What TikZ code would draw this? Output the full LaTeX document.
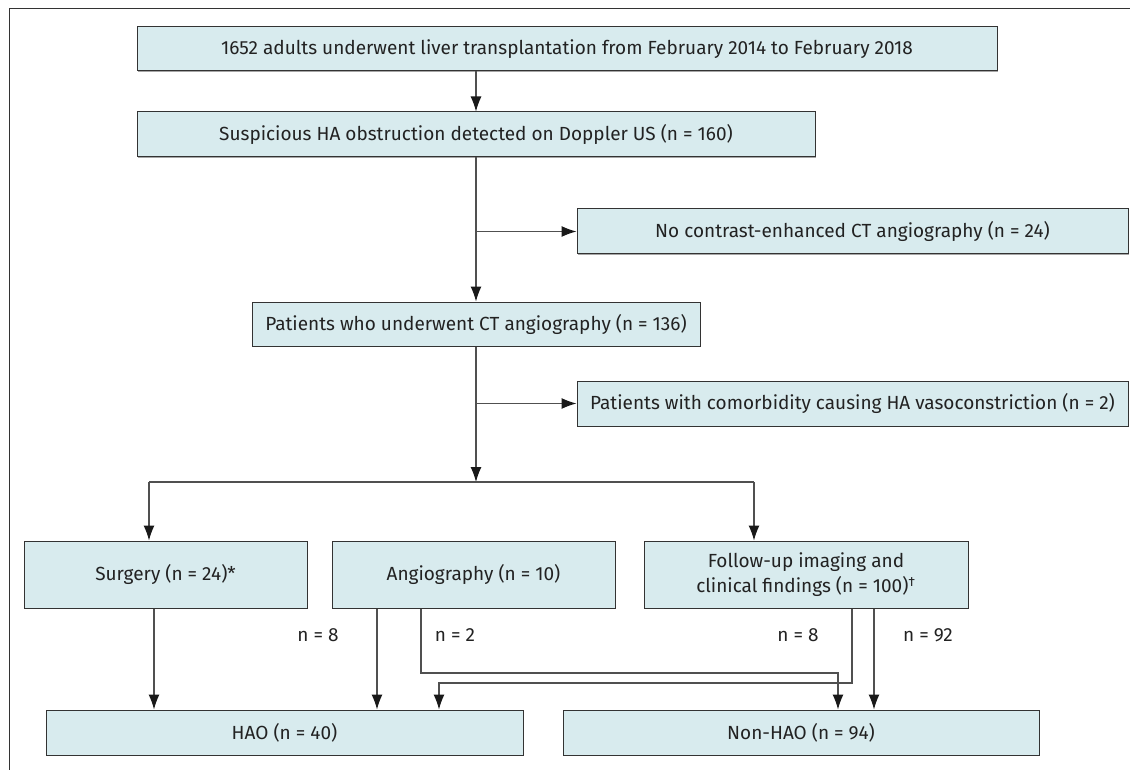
\documentclass[tikz,border=0pt]{standalone}
\usepackage{fontspec}
\setmainfont{Fira Sans}
\usetikzlibrary{arrows.meta,shadows}
\definecolor{boxfill}{HTML}{D8EBEE}
\definecolor{lineg}{HTML}{505050}
\definecolor{edgec}{HTML}{333333}
\definecolor{txtc}{HTML}{222222}
\newcommand\fsz{\fontsize{19}{25}\selectfont}
\tikzset{
 box/.style={draw=edgec, line width=1pt, fill=boxfill, inner sep=0pt, align=center, font=\fsz, text=txtc,
   general shadow={fill=black!35, shadow xshift=1.2pt, shadow yshift=-1.2pt}},
 arr/.style={draw=lineg, line width=1.1pt, -{Latex[length=15pt,width=11pt,color=black!90]}},
 conn/.style={draw=lineg, line width=1.1pt},
 lbl/.style={font=\fsz, text=txtc, inner sep=0pt},
 frameline/.style={draw=edgec, line width=1pt}
}
\begin{document}
\begin{tikzpicture}[x=1pt,y=-1pt]
\useasboundingbox (0,0) rectangle (1130,770);
\draw[frameline] (9,770) -- (9,9) -- (1130,9);
% boxes
\node[box, minimum width=860pt, minimum height=44pt] (b1) at (567,49) {1652 adults underwent liver transplantation from February 2014 to February 2018};
\node[box, minimum width=678pt, minimum height=45pt] (b2) at (476,134.5) {Suspicious HA obstruction detected on Doppler US (n = 160)};
\node[box, minimum width=551pt, minimum height=45pt] (nc) at (852.5,231.5) {No contrast-enhanced CT angiography (n = 24)};
\node[box, minimum width=448pt, minimum height=44pt] (ct) at (476,324) {Patients who underwent CT angiography (n = 136)};
\node[box, minimum width=551pt, minimum height=45pt] (cm) at (852.5,403.5) {Patients with comorbidity causing HA vasoconstriction (n = 2)};
\node[box, minimum width=283pt, minimum height=67pt] (sg) at (165.5,574.5) {Surgery (n = 24)*};
\node[box, minimum width=283pt, minimum height=67pt] (an) at (473.5,574.5) {Angiography (n = 10)};
\node[box, minimum width=324pt, minimum height=67pt] (fu) at (806,574.5) {Follow-up imaging and\\clinical findings (n = 100)\textsuperscript{†}};
\node[box, minimum width=477pt, minimum height=45pt] (hao) at (284.5,732.5) {HAO (n = 40)};
\node[box, minimum width=476pt, minimum height=45pt] (non) at (801,732.5) {Non-HAO (n = 94)};
% helper coordinates
\coordinate (split) at (476,482);
\coordinate (sl) at (149,482);
\coordinate (sr) at (754,482);
\coordinate (xs) at (154,0);
\coordinate (xa1) at (377,0);
\coordinate (xa2) at (421,0);
\coordinate (xf1) at (852,0);
\coordinate (xf2) at (874,0);
\coordinate (r1) at (838,673);
\coordinate (r2) at (439,683);
% connectors
\draw[arr] (b1.south -| b2.north) -- (b2.north);
\draw[arr] (b2.south) -- (ct.north);
\draw[arr] (nc.west -| b2.south) -- (nc.west);
\draw[arr] (ct.south) -- (split);
\draw[arr] (cm.west -| ct.south) -- (cm.west);
\draw[conn] (sl) -- (sr);
\draw[arr] (sl) -- (sl |- sg.north);
\draw[arr] (sr) -- (sr |- fu.north);
\draw[arr] (sg.south -| xs) -- (hao.north -| xs);
\draw[arr] (an.south -| xa1) -- (hao.north -| xa1);
\draw[arr] (an.south -| xa2) -- (xa2 |- r1) -- (r1) -- (r1 |- non.north);
\draw[arr] (fu.south -| xf1) -- (xf1 |- r2) -- (r2) -- (r2 |- hao.north);
\draw[arr] (fu.south -| xf2) -- (non.north -| xf2);
% labels
\node[lbl] (l1) at (318,635) {n = 8};
\node[lbl] (l2) at (455,635) {n = 2};
\node[lbl] (l3) at (798,635) {n = 8};
\node[lbl] (l4) at (928,635) {n = 92};
\end{tikzpicture}
\end{document}
